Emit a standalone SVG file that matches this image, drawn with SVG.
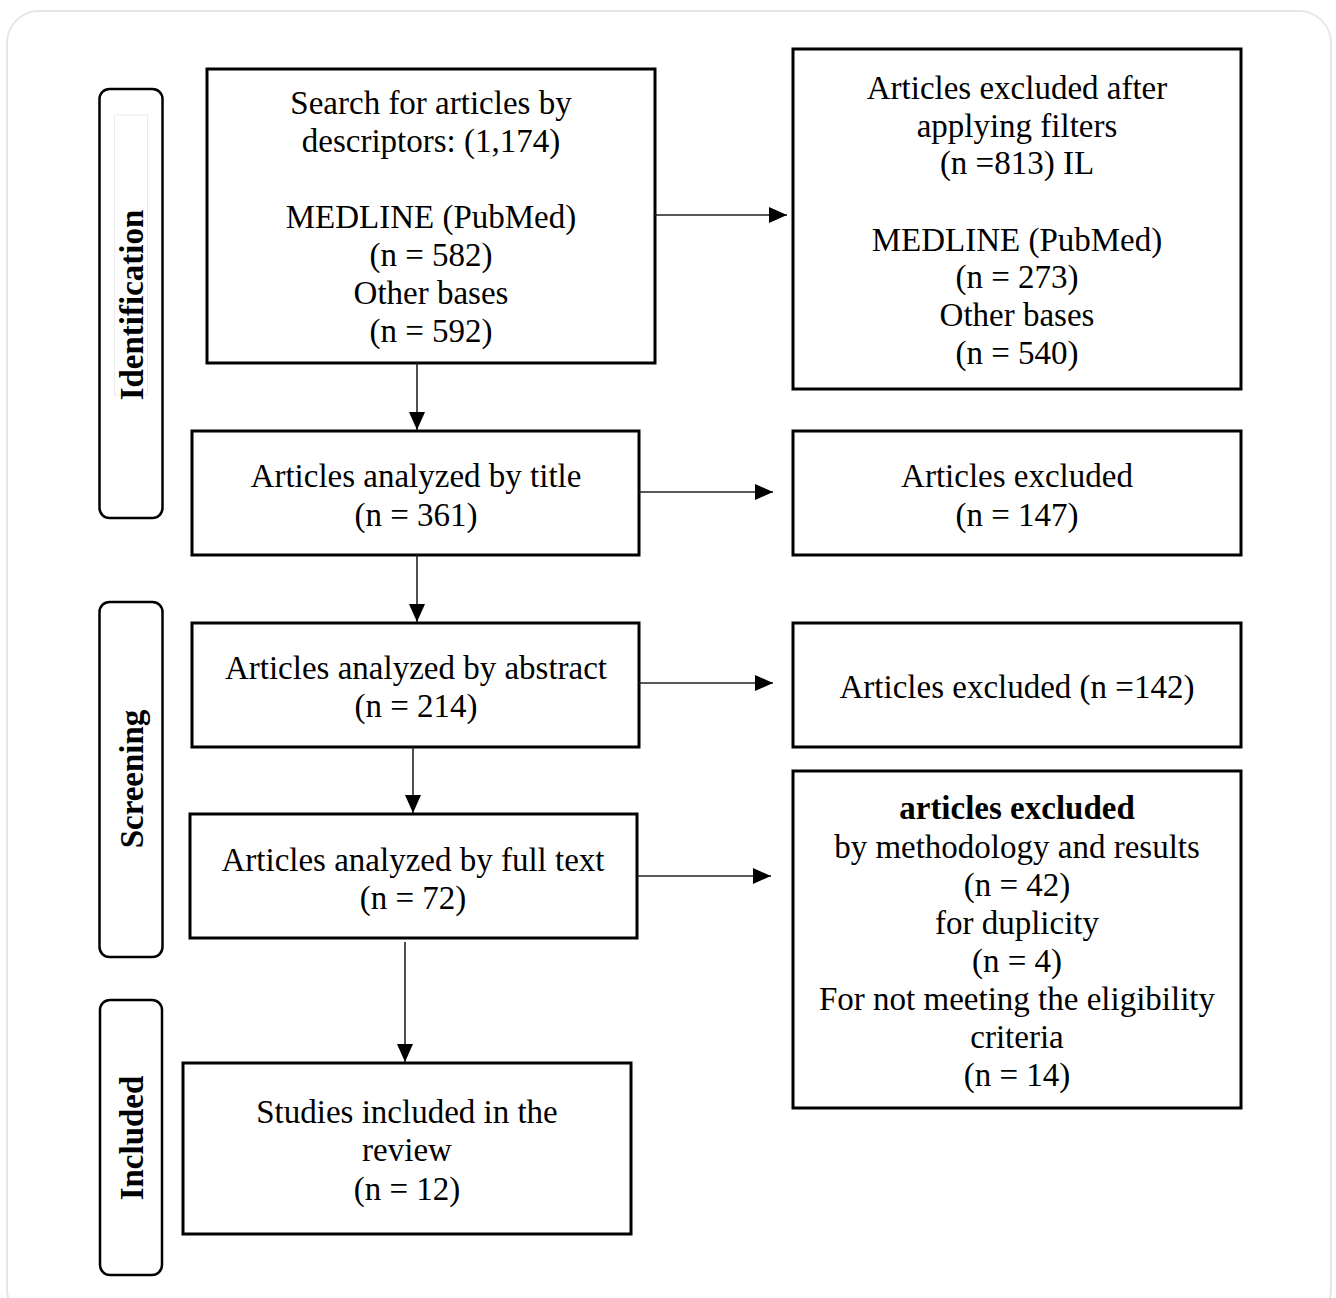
<svg xmlns="http://www.w3.org/2000/svg" width="1336" height="1298" viewBox="0 0 1336 1298">
<defs>
<marker id="arr" markerWidth="18" markerHeight="16" refX="18" refY="8" orient="auto" markerUnits="userSpaceOnUse">
<path d="M0,0 L18,8 L0,16 Z" fill="#000"/>
</marker>
<style>
.box{fill:#fff;stroke:#000;stroke-width:3}
.side{fill:#fff;stroke:#000;stroke-width:2.5}
.t{font-family:"Liberation Serif","Times New Roman",serif;font-size:33px;fill:#000;text-anchor:middle}
.b{font-weight:bold}
.lab{font-family:"Liberation Serif","Times New Roman",serif;font-size:33px;font-weight:bold;fill:#000;text-anchor:middle}
.c{stroke:#222;stroke-width:1.6;fill:none;marker-end:url(#arr)}
.faint{fill:none;stroke:#ebebeb;stroke-width:1}
</style>
</defs>
<rect x="0" y="0" width="1336" height="1298" fill="#fff"/>
<rect x="7" y="11" width="1324" height="1310" rx="32" ry="32" fill="#fff" stroke="#e6e6e6" stroke-width="2"/>

<g id="side-identification">
<rect class="side" x="99.5" y="89" width="63" height="429" rx="10"/>
<rect class="faint" x="114.5" y="115" width="33" height="280"/>
<text class="lab" transform="translate(143,305) rotate(-90)">Identification</text>
</g>
<g id="side-screening">
<rect class="side" x="99.5" y="602" width="63" height="355" rx="10"/>
<text class="lab" transform="translate(143,779) rotate(-90)">Screening</text>
</g>
<g id="side-included">
<rect class="side" x="100" y="1000" width="62" height="275" rx="10"/>
<text class="lab" transform="translate(143,1138) rotate(-90)">Included</text>
</g>

<g id="n-search">
<rect class="box" x="207" y="69" width="448" height="294"/>
<text class="t" x="431" y="114">Search for articles by</text>
<text class="t" x="431" y="152">descriptors: (1,174)</text>
<text class="t" x="431" y="228">MEDLINE (PubMed)</text>
<text class="t" x="431" y="266">(n = 582)</text>
<text class="t" x="431" y="304">Other bases</text>
<text class="t" x="431" y="342">(n = 592)</text>
</g>
<g id="n-excl-filters">
<rect class="box" x="793" y="49" width="448" height="340"/>
<text class="t" x="1017" y="99">Articles excluded after</text>
<text class="t" x="1017" y="137">applying filters</text>
<text class="t" x="1017" y="174">(n =813) IL</text>
<text class="t" x="1017" y="251">MEDLINE (PubMed)</text>
<text class="t" x="1017" y="288">(n = 273)</text>
<text class="t" x="1017" y="326">Other bases</text>
<text class="t" x="1017" y="364">(n = 540)</text>
</g>
<g id="n-title">
<rect class="box" x="192" y="431" width="447" height="124"/>
<text class="t" x="416" y="487">Articles analyzed by title</text>
<text class="t" x="416" y="526">(n = 361)</text>
</g>
<g id="n-excl-147">
<rect class="box" x="793" y="431" width="448" height="124"/>
<text class="t" x="1017" y="487">Articles excluded</text>
<text class="t" x="1017" y="526">(n = 147)</text>
</g>
<g id="n-abstract">
<rect class="box" x="192" y="623" width="447" height="124"/>
<text class="t" x="416" y="679">Articles analyzed by abstract</text>
<text class="t" x="416" y="717">(n = 214)</text>
</g>
<g id="n-excl-142">
<rect class="box" x="793" y="623" width="448" height="124"/>
<text class="t" x="1017" y="698">Articles excluded (n =142)</text>
</g>
<g id="n-fulltext">
<rect class="box" x="190" y="814" width="447" height="124"/>
<text class="t" x="413" y="871">Articles analyzed by full text</text>
<text class="t" x="413" y="909">(n = 72)</text>
</g>
<g id="n-excl-final">
<rect class="box" x="793" y="771" width="448" height="337"/>
<text class="t b" x="1017" y="819">articles excluded</text>
<text class="t" x="1017" y="858">by methodology and results</text>
<text class="t" x="1017" y="896">(n = 42)</text>
<text class="t" x="1017" y="934">for duplicity</text>
<text class="t" x="1017" y="972">(n = 4)</text>
<text class="t" x="1017" y="1010">For not meeting the eligibility</text>
<text class="t" x="1017" y="1048">criteria</text>
<text class="t" x="1017" y="1086">(n = 14)</text>
</g>
<g id="n-included">
<rect class="box" x="183" y="1063" width="448" height="171"/>
<text class="t" x="407" y="1123">Studies included in the</text>
<text class="t" x="407" y="1161">review</text>
<text class="t" x="407" y="1200">(n = 12)</text>
</g>

<g id="connectors">
<line class="c" x1="655" y1="215" x2="787" y2="215"/>
<line class="c" x1="417" y1="363" x2="417" y2="430"/>
<line class="c" x1="639" y1="492" x2="773" y2="492"/>
<line class="c" x1="417" y1="555" x2="417" y2="622"/>
<line class="c" x1="639" y1="683" x2="773" y2="683"/>
<line class="c" x1="413" y1="747" x2="413" y2="813"/>
<line class="c" x1="637" y1="876" x2="771" y2="876"/>
<line class="c" x1="405" y1="942" x2="405" y2="1062"/>
</g>
</svg>
